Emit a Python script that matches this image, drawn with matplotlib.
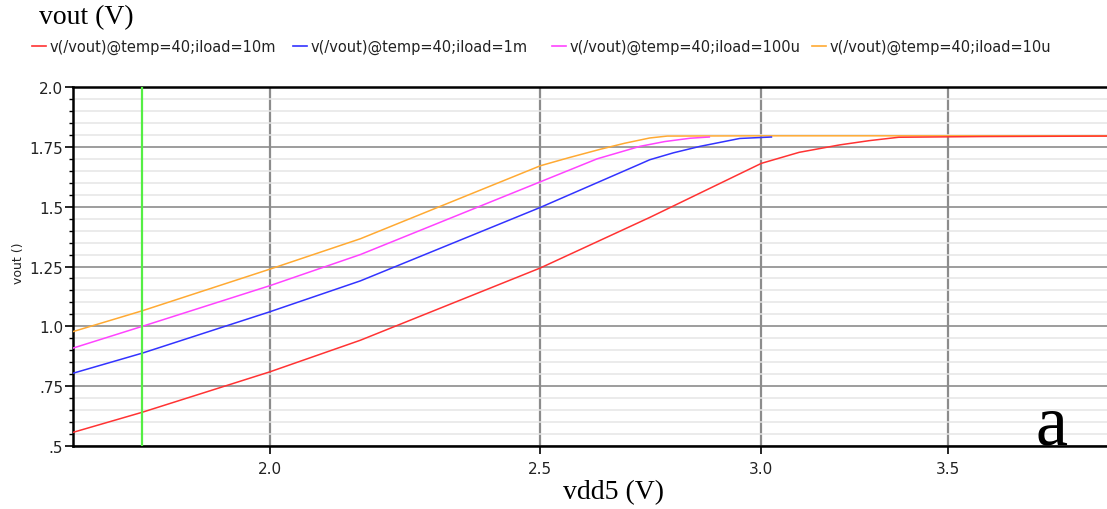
import matplotlib.pyplot as plt
from matplotlib.ticker import FixedLocator, NullLocator, MultipleLocator, FixedFormatter

# Curve data (vdd5 in V, vout in V)
vdd_10m = [1.70, 1.80, 2.00, 2.155, 2.50, 2.736, 3.00, 3.095, 3.20, 3.28, 3.36, 3.60, 4.00]
vout_10m = [0.557, 0.641, 0.810, 0.942, 1.244, 1.455, 1.681, 1.727, 1.758, 1.776, 1.790, 1.793, 1.795]

vdd_1m = [1.70, 1.80, 2.00, 2.155, 2.50, 2.714, 2.736, 2.79, 2.852, 2.947, 3.025]
vout_1m = [0.804, 0.888, 1.061, 1.190, 1.497, 1.678, 1.696, 1.725, 1.752, 1.785, 1.791]

vdd_100u = [1.70, 1.80, 2.00, 2.155, 2.50, 2.62, 2.714, 2.77, 2.829, 2.874]
vout_100u = [0.909, 1.000, 1.170, 1.300, 1.604, 1.700, 1.752, 1.772, 1.786, 1.791]

vdd_10u = [1.70, 1.80, 2.00, 2.155, 2.50, 2.56, 2.627, 2.68, 2.736, 2.776, 3.00, 3.50, 4.00]
vout_10u = [0.978, 1.065, 1.239, 1.366, 1.671, 1.705, 1.740, 1.765, 1.787, 1.795, 1.796, 1.796, 1.796]

labels = ['v(/vout)@temp=40;iload=10m', 'v(/vout)@temp=40;iload=1m',
          'v(/vout)@temp=40;iload=100u', 'v(/vout)@temp=40;iload=10u']
colors = ['#ff3333', '#3333ff', '#ff44ff', '#ffaa33']

x_ticks = [2.0, 2.5, 3.0, 3.5]
x_tick_labels = ['2.0', '2.5', '3.0', '3.5']
y_ticks = [0.5, 0.75, 1.0, 1.25, 1.5, 1.75, 2.0]
y_tick_labels = ['.5', '.75', '1.0', '1.25', '1.5', '1.75', '2.0']
cursor_x = 1.8

fig = plt.figure(figsize=(11.07, 5.10), dpi=100)
ax = fig.add_axes([73 / 1107, 1 - 447 / 510, 1 - 73 / 1107, (447 - 88) / 510])

series = [(vdd_10m, vout_10m), (vdd_1m, vout_1m), (vdd_100u, vout_100u), (vdd_10u, vout_10u)]
zorders = [6, 5, 5, 4]
for (xs, ys), col, z in zip(series, colors, zorders):
    ax.plot(xs, ys, color=col, lw=1.1, zorder=z)

# green cursor line
ax.axvline(cursor_x, color='#55ee44', lw=1.6, zorder=7)

# log x axis, like the viewer
ax.set_xscale('log')
ax.set_xlim(1.70, 3.99)
ax.set_ylim(0.5, 2.0)
ax.xaxis.set_major_locator(FixedLocator(x_ticks))
ax.xaxis.set_major_formatter(FixedFormatter(x_tick_labels))
ax.xaxis.set_minor_locator(NullLocator())
ax.yaxis.set_major_locator(FixedLocator(y_ticks))
ax.yaxis.set_major_formatter(FixedFormatter(y_tick_labels))
ax.yaxis.set_minor_locator(MultipleLocator(0.05))

# grid lines
ax.grid(which='minor', axis='y', color='#e6e6e6', lw=1.1, zorder=0)
ax.grid(which='major', axis='y', color='#8c8c8c', lw=1.2, zorder=1)
ax.grid(which='major', axis='x', color='#8c8c8c', lw=1.6, zorder=1)
ax.set_axisbelow(True)

ax.tick_params(axis='both', which='major', direction='out', length=6, width=1.2,
               labelsize=11, colors='black', labelcolor='#222222')
ax.tick_params(axis='x', which='major', pad=5)
ax.tick_params(axis='y', which='major', pad=1)
ax.tick_params(axis='y', which='minor', direction='out', length=3, width=1.0)

for side in ['top', 'bottom', 'left']:
    ax.spines[side].set_linewidth(1.8)
    ax.spines[side].set_color('black')
ax.spines['right'].set_visible(False)

# titles and labels
fig.text(39 / 1107, 1 - 18 / 510, 'vout (V)', family='Liberation Serif', fontsize=20,
         ha='left', va='center')
fig.text(613 / 1107, 1 - 493 / 510, 'vdd5 (V)', family='Liberation Serif', fontsize=20,
         ha='center', va='center')
fig.text(18 / 1107, 1 - 263 / 510, 'vout ()', fontsize=9, rotation=90,
         ha='center', va='center', color='#222222')
fig.text(1051 / 1107, 1 - 445 / 510, 'a', family='Liberation Serif', fontsize=52,
         ha='center', va='baseline')

# legend row along the top
legend_x = [32, 293, 552, 812]
for lx, lab, col in zip(legend_x, labels, colors):
    fig.add_artist(plt.Line2D([lx / 1107, (lx + 14) / 1107], [1 - 47 / 510, 1 - 47 / 510],
                              color=col, lw=1.2, transform=fig.transFigure))
    fig.text((lx + 18) / 1107, 1 - 47 / 510, lab, fontsize=10.5, ha='left', va='center',
             color='#222222')

fig.savefig('out.png', dpi=100)
